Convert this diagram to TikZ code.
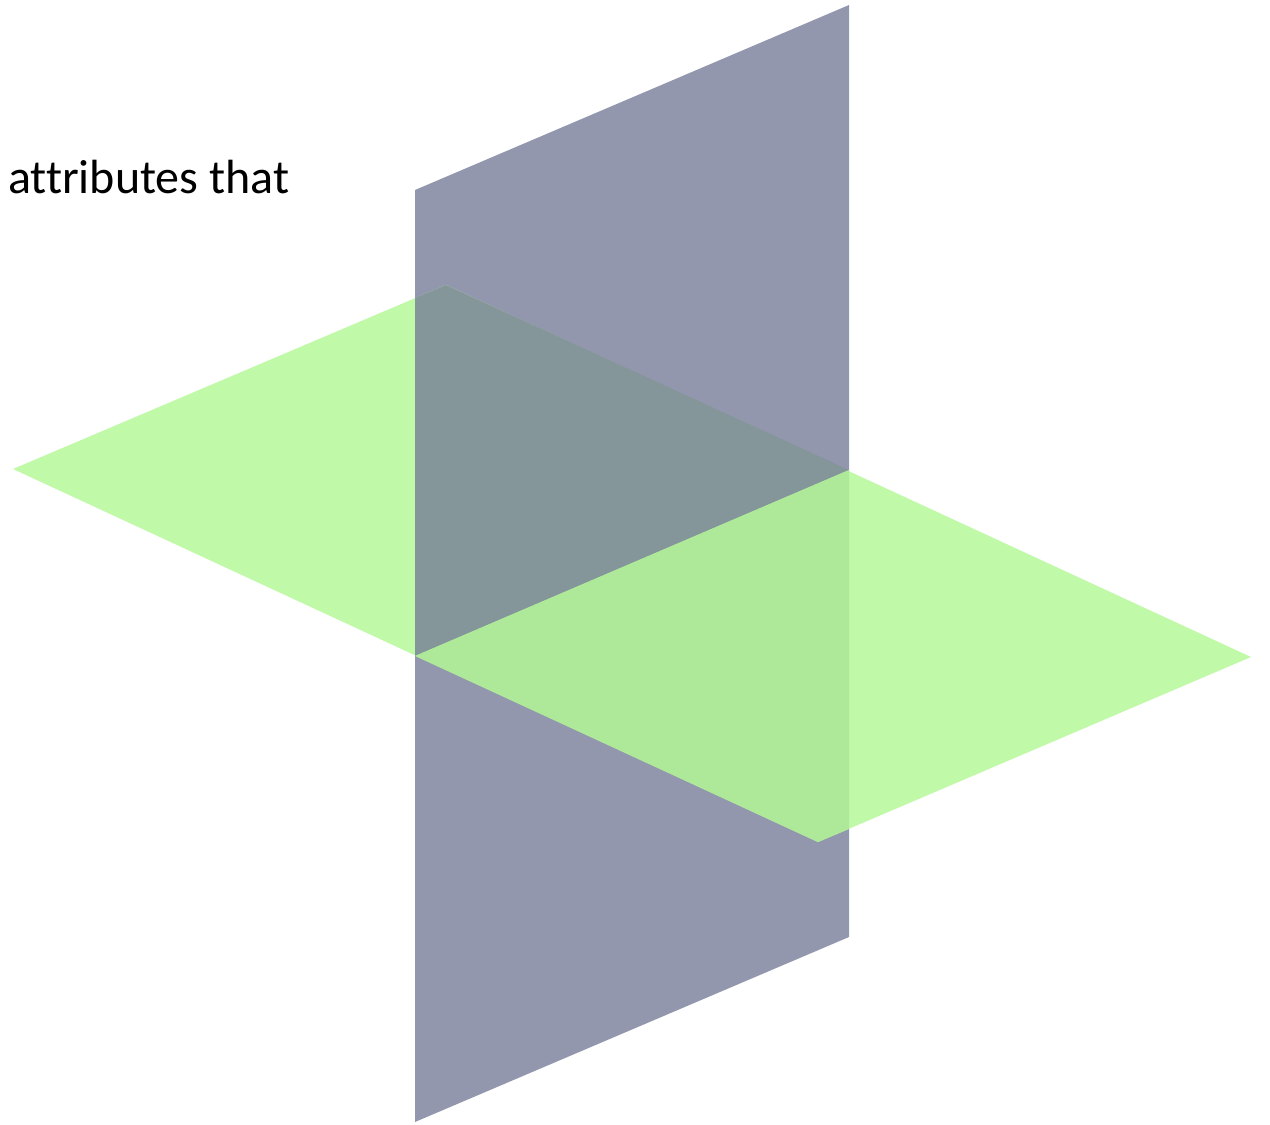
\documentclass[tikz,border=0pt]{standalone}
\usepackage{fontspec}
\setmainfont[Ligatures=CommonOff]{Carlito}
\definecolor{grayplane}{HTML}{9397AE}
\definecolor{greenplane}{HTML}{C0F9A8}
\definecolor{backmix}{HTML}{85969B}
\definecolor{frontmix}{HTML}{AEE899}
\begin{document}
\begin{tikzpicture}[x=1pt,y=-1pt]
\useasboundingbox (0,0) rectangle (1270,1125);
% vertical plane
\fill[grayplane] (415,190) -- (849,5) -- (849,937) -- (415,1122) -- cycle;
% horizontal plane
\fill[greenplane] (13,469) -- (446,285) -- (1251,657) -- (818,842) -- cycle;
% overlap behind the vertical plane
\fill[backmix] (415,298) -- (446,285) -- (849,470) -- (415,656) -- cycle;
% overlap in front of the vertical plane
\fill[frontmix] (415,656) -- (849,470) -- (849,829) -- (818,842) -- cycle;
\node[anchor=base west, inner sep=0pt, font=\fontsize{48}{57}\selectfont] (label) at (8,193) {attributes that};
\end{tikzpicture}
\end{document}
